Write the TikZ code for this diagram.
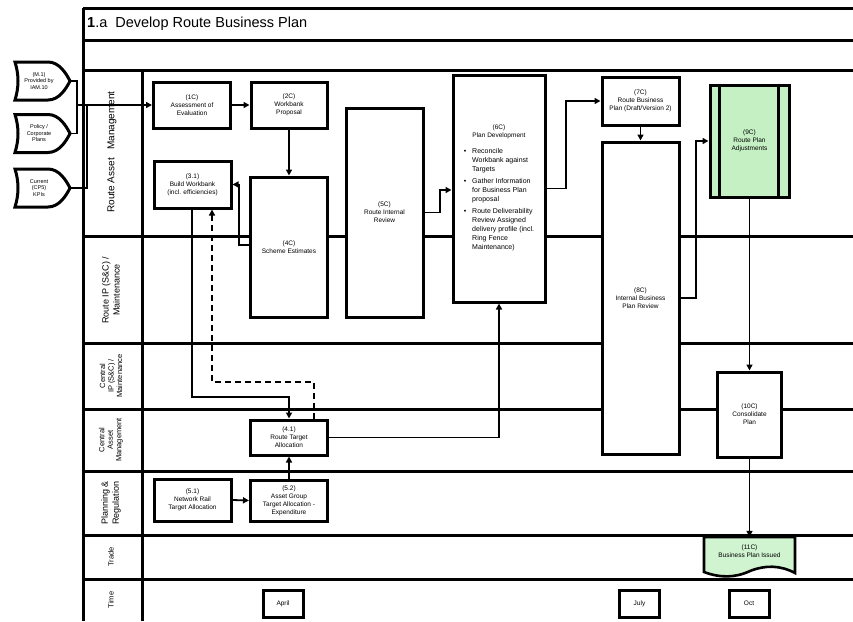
\documentclass[tikz,border=0pt]{standalone}
\usepackage{fontspec}
\setmainfont{Liberation Sans}
\usetikzlibrary{arrows.meta,calc}
\definecolor{procgreen}{RGB}{196,240,196}
\definecolor{docgreen}{RGB}{208,243,208}
\begin{document}
\begin{tikzpicture}[x=1pt,y=-1pt,
 lane/.style={line width=3pt},
 box/.style={draw,line width=3pt,fill=white,align=center,font=\fontsize{6.5}{8}\selectfont,inner sep=1pt},
 arr/.style={line width=1.8pt,-{Triangle[length=6pt,width=6pt]}},
 con/.style={line width=1.8pt},
 lanelabel/.style={rotate=90,align=center,font=\fontsize{9}{11}\selectfont},
 smalllane/.style={lanelabel,font=\fontsize{7.5}{8.5}\selectfont},
 shieldtext/.style={align=center,font=\fontsize{5.5}{6.5}\selectfont,inner sep=0pt},
 timebox/.style={box,minimum width=40pt,minimum height=27pt,font=\fontsize{6.5}{8}\selectfont},
 shieldpic/.pic={\draw[line width=3pt,fill=white] (-27,-19) -- (6,-19) .. controls (17,-19) and (24,-8) .. (28,0) .. controls (24,8) and (17,19) .. (6,19) -- (-27,19) .. controls (-23,6) and (-23,-6) .. (-27,-19) -- cycle;}
]
\useasboundingbox (0,0) rectangle (853,621);

% frame and lanes
\draw[lane] (83,8) -- (853,8);
\draw[lane] (83,40) -- (853,40);
\draw[lane] (83,8) -- (83,621);
\draw[lane] (142,70) -- (142,621);
\foreach \y in {70,236,343,409,471,535,579} \draw[lane] (83,\y) -- (853,\y);

\node[anchor=west,font=\fontsize{14.5}{16}\selectfont,inner sep=0pt] (title) at (87,24) {\textbf{1}.a\ \ Develop Route Business Plan};

% lane labels
\node[lanelabel,font=\fontsize{10}{12}\selectfont] (L1) at (112,152) {Route Asset\ \ \ Management};
\node[lanelabel] (L2) at (111,290) {Route IP (S\&C) /\\Maintenance};
\node[smalllane] (L3) at (111,376) {Central\\IP (S\&C) /\\Maintenance};
\node[smalllane] (L4) at (111,440) {Central\\Asset\\Management};
\node[lanelabel] (L5) at (111,503) {Planning \&\\Regulation};
\node[smalllane] (L6) at (111,557) {Trade};
\node[smalllane] (L7) at (111,600) {Time};

% inputs
\pic at (42,81) {shieldpic};
\pic at (42,133.5) {shieldpic};
\pic at (42,188) {shieldpic};
\node[shieldtext] (s1) at (39,81) {(M.1)\\Provided by\\IAM.10};
\node[shieldtext] (s2) at (39,133.5) {Policy /\\Corporate\\Plans};
\node[shieldtext] (s3) at (39,188) {Current\\(CP5)\\KPIs};
\coordinate (tip1) at (70,81);
\coordinate (tip2) at (70,133.5);
\coordinate (tip3) at (70,188);

% boxes
\node[box,minimum width=77pt,minimum height=46pt] (c1) at (192,105) {(1C)\\Assessment of\\Evaluation};
\node[box,minimum width=76pt,minimum height=46pt] (c2) at (289,105) {(2C)\\Workbank\\Proposal};
\node[box,minimum width=77pt,minimum height=47pt] (c3) at (192.5,184.5) {(3.1)\\Build Workbank\\(incl. efficiencies)};
\node[box,minimum width=77pt,minimum height=140pt] (c4) at (289,247) {(4C)\\Scheme Estimates};
\node[box,minimum width=77pt,minimum height=209pt] (ri) at (384.5,212.5) {(5C)\\Route Internal\\Review};
\node[box,minimum width=92pt,minimum height=227pt] (pd) at (499,188.5) {(6C)\\Plan Development\\[8pt]
\fontsize{7}{9}\selectfont
\begin{tabular}{@{}l@{\hspace{6pt}}p{62pt}@{}}
\textbullet & \raggedright Reconcile Workbank against Targets\tabularnewline[3pt]
\textbullet & \raggedright Gather Information for Business Plan proposal\tabularnewline[3pt]
\textbullet & \raggedright Route Deliverability Review Assigned delivery profile (incl. Ring Fence Maintenance)\tabularnewline
\end{tabular}};
\node[box,minimum width=77pt,minimum height=48pt] (rbp) at (640.5,101) {(7C)\\Route Business\\Plan (Draft/Version 2)};
\node[box,minimum width=77pt,minimum height=312pt] (ibr) at (640.5,298) {(8C)\\Internal Business\\Plan Review};
\node[box,fill=procgreen,minimum width=79pt,minimum height=112pt] (rpa) at (749.5,141) {(9C)\\Route Plan\\Adjustments};
\draw[line width=3pt] ([xshift=11pt]rpa.north west) -- ([xshift=11pt]rpa.south west);
\draw[line width=3pt] ([xshift=-12pt]rpa.north east) -- ([xshift=-12pt]rpa.south east);
\node[box,minimum width=64pt,minimum height=85pt] (cp) at (749.5,414.5) {(10C)\\Consolidate\\Plan};
\node[box,minimum width=77pt,minimum height=35pt] (rt) at (289,437.5) {(4.1)\\Route Target\\Allocation};
\node[box,minimum width=77pt,minimum height=42pt] (nr) at (192.5,500) {(5.1)\\Network Rail\\Target Allocation};
\node[box,minimum width=77pt,minimum height=41pt] (ag) at (289,500.5) {(5.2)\\Asset Group\\Target Allocation -\\Expenditure};

% document shape
\draw[line width=2.6pt,fill=docgreen] (704,537) -- (795,537) -- (795,573) .. controls (780,565) and (765,565) .. (750,571) .. controls (735,578) and (720,578) .. (704,572) -- cycle;
\node[align=center,font=\fontsize{6.5}{8}\selectfont,minimum width=91pt,minimum height=28pt,inner sep=0pt] (bpi) at (749.5,551) {(11C)\\Business Plan Issued};

% time
\node[timebox] (ta) at (283,603.5) {April};
\node[timebox] (tj) at (639.5,603.5) {July};
\node[timebox] (to) at (749,603.5) {Oct};

% connectors
\coordinate (j1) at (77,105);
\coordinate (j3) at (87,105);
\draw[con] (tip1) -| (j1);
\draw[con] (tip2) -| (j1);
\draw[con] (tip3) -| (j3);
\draw[arr] (j1) -- (c1.west);
\draw[arr] (c1.east) -- (c2.west);
\draw[arr] (c2.south) -- (c4.north);
\coordinate (k1) at (239,245);
\draw[arr] (c4.west |- k1) -- (k1) |- (c3.east);
\coordinate (e1) at (192,397);
\draw[arr] (c3.south -| e1) -- (e1) -| (rt.north);
\coordinate (d1) at (314,382);
\coordinate (d2) at (212,382);
\draw[arr,dashed,dash pattern=on 6pt off 4pt] (rt.north -| d1) -- (d1) -- (d2) -- (d2 |- c3.south);
\draw[arr] (nr.east) -- (ag.west);
\draw[arr] (ag.north) -- (rt.south);
\draw[arr] (rt.east) -| (pd.south);
\coordinate (g1) at (440,190);
\draw[arr] (ri.east) -| (g1) -- (g1 -| pd.west);
\coordinate (h1) at (566,101);
\draw[arr] (pd.east) -| (h1) -- (rbp.west);
\draw[arr] (rbp.south) -- (ibr.north);
\coordinate (i1) at (696,141);
\draw[arr] (ibr.east) -| (i1) -- (rpa.west);
\draw[arr] (rpa.south) -- (cp.north);
\draw[arr] (cp.south) -- (bpi.north);
\end{tikzpicture}
\end{document}
